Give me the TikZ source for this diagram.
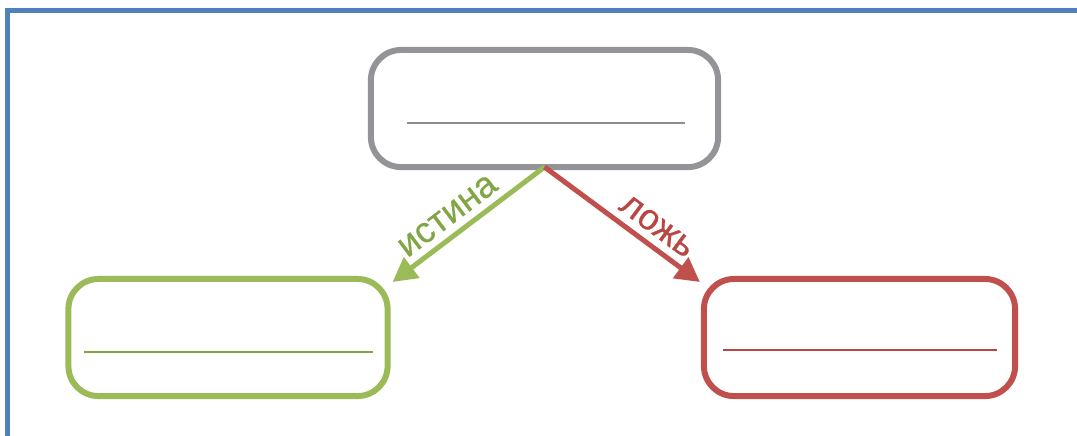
\documentclass[tikz,border=0pt]{standalone}
\usepackage{fontspec}
\setmainfont{Liberation Sans}
\newfontfamily\wordfont{Liberation Sans}[FakeBold=0.5]
\usepackage{tikz}
\usetikzlibrary{arrows.meta}
\definecolor{frameblue}{HTML}{4F81BD}
\definecolor{boxgray}{HTML}{939398}
\definecolor{linegray}{HTML}{8C8C8C}
\definecolor{truegreen}{HTML}{9BBB59}
\definecolor{truetext}{HTML}{82A546}
\definecolor{falsered}{HTML}{C0504D}
\definecolor{falsetext}{HTML}{B84744}

\begin{document}
\begin{tikzpicture}[x=0.01cm, y=-0.01cm,
	main/.style = {draw, rounded corners=0.3cm, line width=0.06cm, minimum height=1.17cm, inner sep=0, outer sep=0},
	blank/.style = {line width=0.02cm},
	branch/.style = {line width=0.05cm, -{Triangle[length=0.24cm,width=0.25cm]}},
	word/.style = {sloped, above, inner sep=2pt, font=\wordfont\fontsize{10.3}{12}\selectfont}]
	\useasboundingbox (0,0) rectangle (1077,435);
	\draw[frameblue, line width=0.05cm] (7.5,440) -- (7.5,10) -- (1080,10);
	\node[main, boxgray, minimum width=3.47cm] (Q) at (544.5,108.5){};
	\node[main, truegreen, minimum width=3.19cm] (T) at (228,337.5){};
	\node[main, falsered, minimum width=3.11cm] (F) at (859.5,337.5){};
	\draw[blank, linegray] ([shift={(-137.5,14.5)}]Q.center) -- ([shift={(140.5,14.5)}]Q.center);
	\draw[blank, truetext] ([shift={(-144,14.5)}]T.center) -- ([shift={(145,14.5)}]T.center);
	\draw[blank, falsetext] ([shift={(-136.5,12.5)}]F.center) -- ([shift={(137.5,12.5)}]F.center);
	\draw[branch, truegreen] (Q.south) -- node[word, text=truetext, pos=0.56]{истина} ([shift={(5,3)}]T.north east);
	\draw[branch, falsered] (Q.south) -- node[word, text=falsetext, pos=0.65]{ложь} ([shift={(-4,3)}]F.north west);
\end{tikzpicture}
\end{document}
